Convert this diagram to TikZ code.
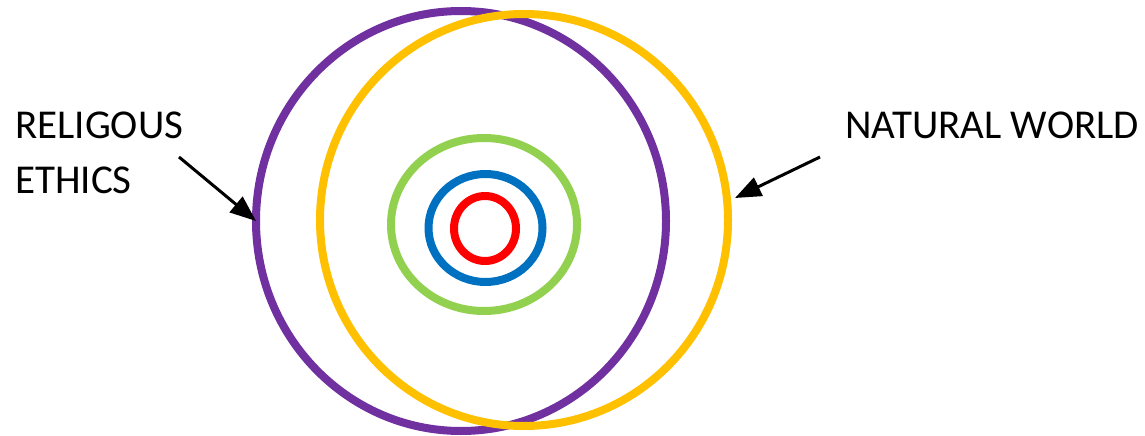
\documentclass[tikz,border=0pt]{standalone}
\usepackage{fontspec}
\setmainfont{Carlito}
\usetikzlibrary{arrows.meta, shapes.geometric}
\definecolor{ringpurple}{HTML}{7030A0}
\definecolor{ringyellow}{HTML}{FFC000}
\definecolor{ringgreen}{HTML}{92D050}
\definecolor{ringblue}{HTML}{0070C0}
\definecolor{ringred}{HTML}{FF0000}

\begin{document}
\begin{tikzpicture}[x=1pt, y=-1pt,
  ring/.style={ellipse, draw, line width=8pt, inner sep=0pt, outer sep=0pt},
  label/.style={inner sep=0pt, font=\fontsize{41}{55}\selectfont, align=left},
  pointer/.style={-{Triangle[length=26pt, width=20pt]}, line width=3pt}]
  \useasboundingbox (0,0) rectangle (1145,436);
  % outer rings
  \node[ring, draw=ringpurple, minimum width=410pt, minimum height=420pt] (religion) at (461,221) {};
  \node[ring, draw=ringyellow, minimum width=408pt, minimum height=412pt] (nature) at (524,220) {};
  % inner rings
  \node[ring, draw=ringgreen, minimum width=186pt, minimum height=173pt] (green) at (484,224.5) {};
  \node[ring, draw=ringblue, minimum width=114pt, minimum height=108pt] (blue) at (485.5,228) {};
  \node[ring, draw=ringred, minimum width=62pt, minimum height=65pt] (red) at (485,228.5) {};
  % labels
  \node[label, anchor=base west] (rel) at (15,193) {RELIGOUS\\ETHICS};
  \node[label, anchor=base west] (nat) at (845,138) {NATURAL WORLD};
  \coordinate (relstart) at (179,157);
  \coordinate (natstart) at (820,157);
  \coordinate (natend) at (735,198);
  \draw[pointer] (relstart) -- (religion.west);
  \draw[pointer] (natstart) -- (natend);
\end{tikzpicture}
\end{document}
